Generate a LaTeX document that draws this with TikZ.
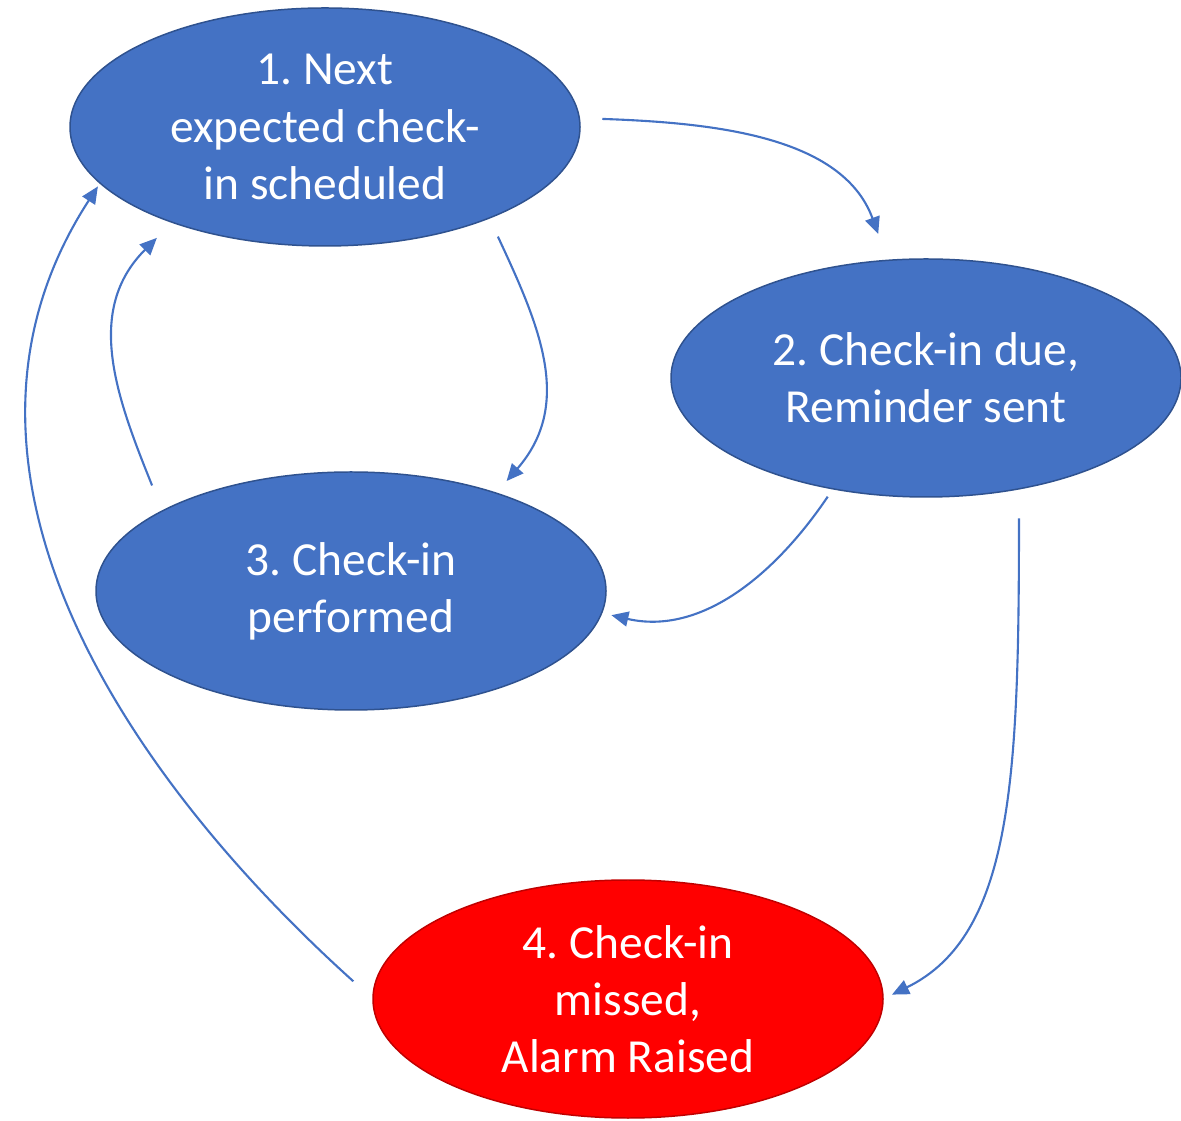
\documentclass[tikz,border=0pt]{standalone}
\usepackage{fontspec}
\setmainfont{Carlito}
\usetikzlibrary{shapes.geometric,arrows.meta}
\definecolor{stateblue}{HTML}{4472C4}
\definecolor{stateedge}{HTML}{2F528F}
\definecolor{alarmred}{HTML}{FF0000}
\definecolor{alarmedge}{HTML}{C00000}
\frenchspacing

\begin{document}
\begin{tikzpicture}[
        state/.style={ellipse, draw=stateedge, fill=stateblue, line width=0.85pt,
            minimum width=10.2cm, minimum height=4.76cm, inner sep=0pt, outer sep=0pt,
            text=white, align=center, font=\fontsize{27}{32.5}\selectfont},
        alarm/.style={state, draw=alarmedge, fill=alarmred},
        flow/.style={draw=stateblue, line width=1.2pt,
            -{Triangle[length=0.34cm, width=0.3cm]}}
    ]
        \useasboundingbox (0,0) rectangle (23.62,22.4);

        % Nodes
        \node at (6.5,19.86) [state] (scheduled) {1. Next\\expected check-\\in scheduled};
        \node at (18.52,14.84) [state] (due) {2. Check-in due,\\Reminder sent};
        \node at (7.02,10.58) [state] (performed) {3. Check-in\\performed};
        \node at (12.56,2.42) [alarm] (missed) {4. Check-in\\missed,\\Alarm Raised};

        % Arrows
        \draw[flow, shorten <=0.46cm, shorten >=0.56cm]
        (scheduled.2) to[out=-2, in=110] (due.108);

        \draw[flow, shorten <=0.41cm, shorten >=0.32cm, looseness=1.1]
        (scheduled.-29) to[out=-65, in=49] (performed.34);

        \draw[flow, shorten <=0.55cm, shorten >=0.44cm, looseness=1.1]
        (performed.157) to[out=112, in=-135] (scheduled.212);

        \draw[flow, shorten <=0.19cm, shorten >=0.2cm]
        (due.-130) to[out=-124, in=-13] (performed.-5);

        \draw[flow, shorten <=0.59cm, shorten >=0.2cm, out looseness=1.4, in looseness=0.7]
        (due.-50) to[out=-90, in=26] (missed.0);

        \draw[flow, shorten <=0.53cm, shorten >=0.08cm]
        (missed.180) to[out=138, in=-123] (scheduled.-166);

    \end{tikzpicture}
\end{document}
